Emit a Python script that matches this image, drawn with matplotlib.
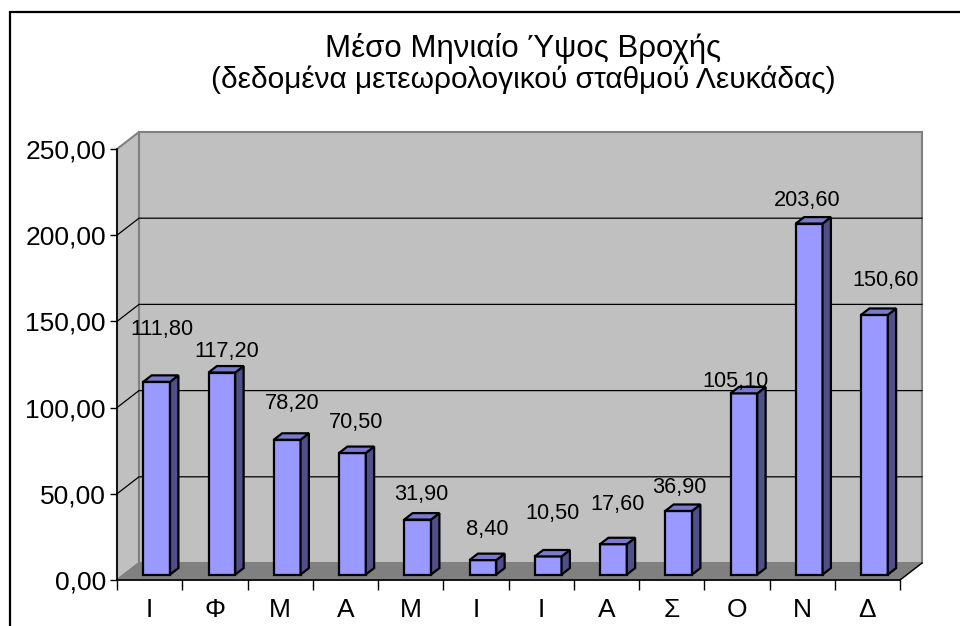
import matplotlib
matplotlib.use('Agg')
import matplotlib.pyplot as plt
from matplotlib.patches import Polygon, Rectangle

# ---- data ----
months = ['Ι', 'Φ', 'Μ', 'Α', 'Μ', 'Ι', 'Ι', 'Α', 'Σ', 'Ο', 'Ν', 'Δ']
rainfall = [111.8, 117.2, 78.2, 70.5, 31.9, 8.4, 10.5, 17.6, 36.9, 105.1, 203.6, 150.6]
y_ticks = [0, 50, 100, 150, 200, 250]
title_line1 = 'Μέσο Μηνιαίο Ύψος Βροχής'
title_line2 = '(δεδομένα μετεωρολογικού σταθμού Λευκάδας)'

# data-label placement offsets (pixels), as placed in the original
label_dx = [1, 1, 1, -1, -1, 0, 0, 0, -4, -13, -6, 6.5]
label_dy = [58, 26, 42, 35.5, 31, 36.5, 48, 44.7, 28.4, 17, 28, 40.3]

plt.rcParams['font.family'] = ['Liberation Sans', 'DejaVu Sans']

fig = plt.figure(figsize=(9.6, 6.26), dpi=100)
ax = fig.add_axes([117 / 960, 46 / 626, 783 / 960, 431 / 626])
n = len(months)
ymax = y_ticks[-1]
ax.set_xlim(0, n)
ax.set_ylim(0, ymax)

# 3-D depth offset in data units
DX = 22 / 65.25
DY = 17 / (431 / ymax)

wall_c = '#c0c0c0'
edge_c = '#808080'
# left wall
ax.add_patch(Polygon([(0, 0), (DX, DY), (DX, ymax + DY), (0, ymax)], closed=True,
                     fc=wall_c, ec=edge_c, lw=1.5, clip_on=False, zorder=0.5))
# back wall
ax.add_patch(Polygon([(DX, DY), (n + DX, DY), (n + DX, ymax + DY), (DX, ymax + DY)], closed=True,
                     fc=wall_c, ec=edge_c, lw=1.5, clip_on=False, zorder=0.5))
# floor
ax.add_patch(Polygon([(0, 0), (n, 0), (n + DX, DY), (DX, DY)], closed=True,
                     fc='#808080', ec='#808080', lw=1, clip_on=False, zorder=0.6))
ax.plot([n, n + DX], [0, DY], color='black', lw=1, clip_on=False, zorder=0.7)

# gridlines on walls
for t in y_ticks[1:-1]:
    ax.plot([0, DX, n + DX], [t, t + DY, t + DY], color='black', lw=0.9,
            clip_on=False, zorder=0.8)

# bars
W = 0.41
F = 0.32
B = 0.70
centers = [i + 0.5 for i in range(n)]
front_x = [c + F * DX for c in centers]
ax.bar(front_x, rainfall, width=W, bottom=F * DY, color='#9999ff',
       edgecolor='black', linewidth=1.6, zorder=3)
ddx = (B - F) * DX
ddy = (B - F) * DY
for fx, v in zip(front_x, rainfall):
    x0 = fx - W / 2
    x1 = fx + W / 2
    y0 = F * DY
    y1 = v + F * DY
    ax.add_patch(Polygon([(x1, y0), (x1 + ddx, y0 + ddy), (x1 + ddx, y1 + ddy), (x1, y1)],
                         closed=True, fc='#4f4f8a', ec='black', lw=1.6, zorder=3))
    ax.add_patch(Polygon([(x0, y1), (x1, y1), (x1 + ddx, y1 + ddy), (x0 + ddx, y1 + ddy)],
                         closed=True, fc='#7a7acc', ec='black', lw=1.6, zorder=3))

# data labels
for c, v, dx, dy in zip(centers, rainfall, label_dx, label_dy):
    ax.annotate(f'{v:.2f}'.replace('.', ','), xy=(c + 0.51 * DX, v), xytext=(dx, dy),
                textcoords='offset pixels', ha='center', va='center', fontsize=15.7,
                color='black', zorder=5, annotation_clip=False)

# axes styling
for s in ['top', 'right']:
    ax.spines[s].set_visible(False)
for s in ['left', 'bottom']:
    ax.spines[s].set_color('black')
    ax.spines[s].set_linewidth(1.2)
    ax.spines[s].set_zorder(4)
ax.set_facecolor('none')

ax.set_yticks(y_ticks)
ax.set_yticklabels([f'{t:.2f}'.replace('.', ',') for t in y_ticks], fontsize=19)
ax.tick_params(axis='y', direction='out', length=5, width=1, pad=3)

ax.set_xticks(centers)
ax.set_xticklabels(months, fontsize=19)
ax.tick_params(axis='x', which='major', length=0, pad=13)
ax.set_xticks(list(range(n + 1)), minor=True)
ax.tick_params(axis='x', which='minor', direction='out', length=7, width=1)

# title
fig.text(523 / 960, 1 - 48 / 626, title_line1, ha='center', va='center', fontsize=22.5)
fig.text(523 / 960, 1 - 80 / 626, title_line2, ha='center', va='center', fontsize=21.5)

# chart border
fig.patches.append(Rectangle((10 / 960, -0.1), 1.0, (626 - 12) / 626 + 0.1,
                             transform=fig.transFigure, fill=False, ec='black', lw=1.6))

fig.savefig('out.png', dpi=100)
